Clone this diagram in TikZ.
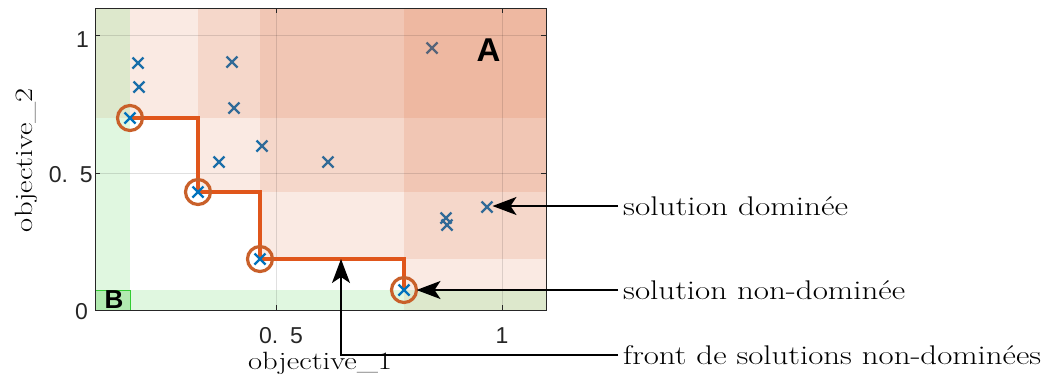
\documentclass[tikz,border=0pt]{standalone}
\usepackage{fontspec}
\newfontfamily\sansf{Liberation Sans}
\newcommand\myTickFont{\sansf\fontsize{23}{23}\selectfont\frenchspacing\spaceskip 12pt\relax\xspaceskip 12pt\relax}
\usetikzlibrary{arrows.meta,shapes.misc}
\definecolor{mblue}{HTML}{0072BD}
\definecolor{morange}{HTML}{D95319}
\definecolor{fline}{HTML}{E0561B}
\definecolor{circc}{HTML}{C9602A}
\definecolor{axgrey}{HTML}{262626}
\definecolor{gshade}{rgb}{0.2,0.8,0.2}
\definecolor{bfill}{HTML}{B2EAB0}
\definecolor{bdraw}{HTML}{33CC33}
\begin{document}
\begin{tikzpicture}[x=1pt,y=-1pt,
  pt/.style={cross out,draw=mblue,line width=2.3pt,minimum size=11pt,inner sep=0pt,outer sep=0pt},
  ring/.style={circle,draw=circc,line width=3.2pt,minimum size=25pt,inner sep=0pt,outer sep=0pt},
  dom/.style={fill=morange,fill opacity=0.12},
  nondom/.style={fill=gshade,fill opacity=0.15},
  gridl/.style={black,opacity=0.12,line width=0.8pt},
  tickl/.style={axgrey,line width=0.8pt},
  ticklab/.style={font=\myTickFont,text=axgrey,inner sep=0pt},
  axlab/.style={font=\fontsize{25}{28}\selectfont,inner sep=0pt},
  annot/.style={font=\fontsize{27}{30}\selectfont,inner xsep=5pt,inner ysep=0pt,anchor=west},
  arr/.style={-{Stealth[length=24pt,width=18pt,inset=6pt]},line width=1.8pt},
  frontline/.style={draw=fline,line width=3.2pt},
]
\fill[white] (0,0) rectangle (1045,389);
\useasboundingbox (0,0) rectangle (1045,389);

% dominated solutions
\node[pt] (d1) at (138,63) {};
\node[pt] (d2) at (139,87) {};
\node[pt] (d3) at (232,62) {};
\node[pt] (d4) at (234,108) {};
\node[pt] (d5) at (219,162) {};
\node[pt] (d6) at (262,146) {};
\node[pt] (d7) at (328,162) {};
\node[pt] (d8) at (432,48) {};
\node[pt] (d9) at (446,218) {};
\node[pt] (d10) at (447,225) {};
\node[pt] (d11) at (487,207) {};

% positions of non-dominated solutions
\coordinate (p1) at (130,118);
\coordinate (p2) at (198,192);
\coordinate (p3) at (260,259);
\coordinate (p4) at (404,290);

% corner regions (under the green)
\fill[dom,fill opacity=0.1] (95,8) rectangle (p1);
\fill[dom,fill opacity=0.1] (p4) rectangle (546,310);
% green regions
\fill[nondom] (95,8) rectangle (130,310);
\fill[nondom] (130,290) rectangle (546,310);
% dominated regions
\fill[dom] (p1) rectangle (546,8);
\fill[dom] (p2) rectangle (546,8);
\fill[dom] (p3) rectangle (546,8);
\fill[dom] (p4) rectangle (546,8);
% B box
\filldraw[fill=bfill,draw=bdraw,line width=0.8pt] (95,290) rectangle (130,310);

% grid
\draw[gridl] (276,8) -- (276,310);
\draw[gridl] (502,8) -- (502,310);
\draw[gridl] (95,35) -- (546,35);
\draw[gridl] (95,173) -- (546,173);

% front
\draw[frontline] (p1) -| (p2) -| (p3) -| (p4);
\node[ring] (r1) at (p1) {};
\node[ring] (r2) at (p2) {};
\node[ring] (r3) at (p3) {};
\node[ring] (r4) at (p4) {};
\node[pt] (n1) at (p1) {};
\node[pt] (n2) at (p2) {};
\node[pt] (n3) at (p3) {};
\node[pt] (n4) at (p4) {};

% axes box and ticks
\draw[axgrey,line width=1pt] (95,8) rectangle (546,310);
\foreach \xx in {276,502} {
  \draw[tickl] (\xx,8) -- (\xx,13);
  \draw[tickl] (\xx,310) -- (\xx,305);
}
\foreach \yy in {35,173} {
  \draw[tickl] (95,\yy) -- (100,\yy);
  \draw[tickl] (546,\yy) -- (541,\yy);
}

% tick labels
\node[ticklab,anchor=base east] (ty1) at (89,47) {1};
\node[ticklab,anchor=base east] (ty05) at (93,182) {0. 5};
\node[ticklab,anchor=base east] (ty0) at (88,319) {0};
\node[ticklab,anchor=base] (tx05) at (281,343) {0. 5};
\node[ticklab,anchor=base] (tx1) at (502,343) {1};

% axis labels
\node[axlab,anchor=base] (xlab) at (320,369) {\resizebox{144pt}{\height}{objective\_1}};
\node[axlab,anchor=base,rotate=90] (ylab) at (33,160) {\resizebox{144pt}{\height}{objective\_2}};

% region letters
\node[font=\sansf\bfseries\fontsize{33}{33}\selectfont,inner sep=0pt] (A) at (488.5,50.5) {A};
\node[font=\sansf\bfseries\fontsize{26}{26}\selectfont,inner sep=0pt] (B) at (114,300) {B};

% annotations
\node[annot] (l1) at (618,206) {\resizebox{225pt}{\height}{solution dominée}};
\node[annot] (l2) at (618,290) {\resizebox{282pt}{\height}{solution non-dominée}};
\node[annot] (l3) at (618,355) {\resizebox{418pt}{\height}{front de solutions non-dominées}};
\coordinate (fm) at (341,259);
\draw[arr] (l1.west) -- (l1.west -| d11.east);
\draw[arr] (l2.west) -- (r4.east);
\draw[arr] (l3.west) -| (fm);
\end{tikzpicture}
\end{document}
